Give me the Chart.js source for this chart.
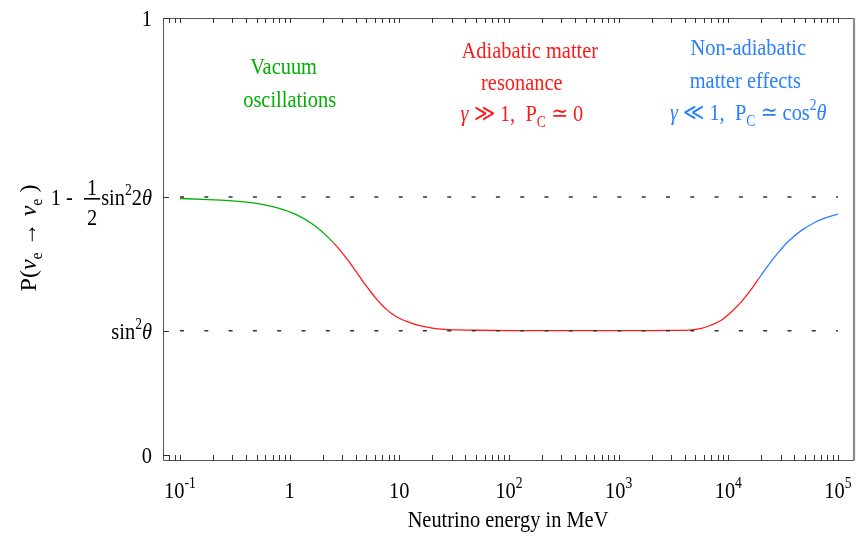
<!DOCTYPE html>
<html>
<head>
<meta charset="utf-8">
<script src="https://cdn.jsdelivr.net/npm/chart.js@4.4.1/dist/chart.umd.min.js"></script>
<style>
  body { margin: 0; background: #fff; }
  canvas { display: block; }
</style>
</head>
<body>
<canvas id="chart" width="863" height="539"></canvas>
<script>
// values
var SIN2 = 0.2844;          // sin^2 theta
var UPPER = 0.5904;         // 1 - 1/2 sin^2 2theta

var vacuumE = [0.1, 0.16, 0.28, 0.46, 0.76, 1.15, 1.6, 2.15];
var vacuumP = [0.587, 0.585, 0.582, 0.577, 0.566, 0.550, 0.529, 0.5026];

var adiabaticE = [2.5, 2.8, 3.3, 3.6, 4.0, 4.5, 5.0, 5.5, 6.1, 6.8, 7.6, 8.5, 10, 12, 15, 20, 26, 35, 50, 100, 1000, 1900, 3000, 4300, 5700, 7000, 8700, 10700, 13200, 16300];
var adiabaticP = [0.4861, 0.4723, 0.450, 0.4372, 0.4211, 0.4028, 0.3868, 0.373, 0.359, 0.3457, 0.3338, 0.324, 0.313, 0.3045, 0.2965, 0.2905, 0.2876, 0.2862, 0.2855, 0.2848, 0.2846, 0.2846, 0.285, 0.286, 0.290, 0.2975, 0.309, 0.328, 0.351, 0.380];

var nonAdiabaticE = [19000, 23100, 28500, 35000, 46500, 61400, 75700, 100000];
var nonAdiabaticP = [0.404, 0.434, 0.463, 0.488, 0.514, 0.532, 0.542, 0.551];

var dashE = [0.1, 100000];

var xMajor = [0.1, 1, 10, 100, 1000, 10000, 100000];
var xMajorLabels = [['10', '-1'], ['1', ''], ['10', ''], ['10', '2'], ['10', '3'], ['10', '4'], ['10', '5']];
var yTicks = [0, SIN2, UPPER, 1];

var GREEN = '#00b000', RED = '#ff1a1a', BLUE = '#2a80ff';
var FONT = '"Liberation Serif", "DejaVu Serif", serif';

function pts(xs, ys) {
    return xs.map(function (x, i) { return { x: x, y: ys[i] }; });
}

function minorTicks() {
    var out = [];
    for (var p = -2; p <= 5; p++) {
        for (var k = 1; k <= 9; k++) {
            var v = k * Math.pow(10, p);
            if (v >= 0.075 && v <= 140000) out.push(v);
        }
    }
    return out;
}

function fontOf(p, size) {
    var s = (p.sub || p.sup) ? Math.round(size * 0.68) : size;
    return (p.it ? 'italic ' : '') + s + 'px ' + FONT;
}

// draws a list of text pieces (with sub/superscripts) at x, baseline y
function drawRuns(ctx, parts, x, y, align, size, sq) {
    sq = sq || 0.85;
    function fracW(p) {
        ctx.font = size + 'px ' + FONT;
        return Math.max(ctx.measureText(p.frac[0]).width, ctx.measureText(p.frac[1]).width) * sq + 2 * p.pad;
    }
    var w = 0;
    parts.forEach(function (p) {
        if (p.frac) { w += fracW(p); return; }
        ctx.font = fontOf(p, size);
        w += ctx.measureText(p.t).width * sq;
    });
    var cx = align === 'center' ? x - w / 2 : (align === 'right' ? x - w : x);
    ctx.textAlign = 'left';
    ctx.textBaseline = 'alphabetic';
    parts.forEach(function (p) {
        if (p.frac) {
            var fw = fracW(p);
            [[p.frac[0], -10], [p.frac[1], 20]].forEach(function (f) {
                var tw = ctx.measureText(f[0]).width * sq;
                ctx.save();
                ctx.translate(cx + (fw - tw) / 2, y + f[1]);
                ctx.scale(sq, 1);
                ctx.fillText(f[0], 0, 0);
                ctx.restore();
            });
            ctx.fillRect(cx + 1, y - 7, fw - 2, 1.6);
            cx += fw;
            return;
        }
        ctx.font = fontOf(p, size);
        var dy = p.sub ? size * 0.25 : (p.sup ? -size * 0.4 : 0);
        ctx.save();
        ctx.translate(cx, y + dy);
        ctx.scale(sq, 1);
        ctx.fillText(p.t, 0, 0);
        ctx.restore();
        cx += ctx.measureText(p.t).width * sq;
    });
}

var notes = [
    { color: GREEN, x: 0.88, y: 0.872, parts: [{ t: 'Vacuum' }] },
    { color: GREEN, x: 1.0, y: 0.796, parts: [{ t: 'oscillations' }] },
    { color: RED, x: 155, y: 0.908, parts: [{ t: 'Adiabatic matter' }] },
    { color: RED, x: 131, y: 0.835, parts: [{ t: 'resonance' }] },
    { color: RED, x: 131, y: 0.764, parts: [{ t: '\u03b3', it: true }, { t: ' \u226b 1,  P' }, { t: 'C', sub: true }, { t: ' \u2243 0' }] },
    { color: BLUE, x: 15200, y: 0.915, parts: [{ t: 'Non-adiabatic' }] },
    { color: BLUE, x: 14300, y: 0.840, parts: [{ t: 'matter effects' }] },
    { color: BLUE, x: 15200, y: 0.767, parts: [{ t: '\u03b3', it: true }, { t: ' \u226a 1,  P' }, { t: 'C', sub: true }, { t: ' \u2243 cos' }, { t: '2', sup: true }, { t: '\u03b8', it: true }] }
];

var yLabelParts = [
    [{ t: '0' }],
    [{ t: 'sin' }, { t: '2', sup: true }, { t: '\u03b8', it: true }],
    [{ t: '1 -  ' }, { frac: ['1', '2'], pad: 4 }, { t: 'sin' }, { t: '2', sup: true }, { t: '2' }, { t: '\u03b8', it: true }],
    [{ t: '1' }]
];

var decorPlugin = {
    id: 'decor',
    afterDraw: function (chart) {
        var ctx = chart.ctx, a = chart.chartArea;
        var xs = chart.scales.x, ys = chart.scales.y;
        ctx.save();

        // frame
        ctx.strokeStyle = '#555';
        ctx.lineWidth = 1;
        ctx.beginPath();
        ctx.moveTo(a.left + 0.5, a.top + 0.5);
        ctx.lineTo(a.right, a.top + 0.5);
        ctx.moveTo(a.left + 0.5, a.top);
        ctx.lineTo(a.left + 0.5, a.bottom - 0.5);
        ctx.lineTo(a.right, a.bottom - 0.5);
        ctx.stroke();
        ctx.strokeStyle = '#8a8a8a';
        ctx.lineWidth = 2.2;
        ctx.beginPath();
        ctx.moveTo(a.right - 1, a.top);
        ctx.lineTo(a.right - 1, a.bottom);
        ctx.stroke();

        // inward ticks
        ctx.strokeStyle = '#333';
        ctx.lineWidth = 1;
        ctx.beginPath();
        minorTicks().forEach(function (v) {
            var px = Math.round(xs.getPixelForValue(v)) + 0.5;
            ctx.moveTo(px, a.bottom - 6);
            ctx.lineTo(px, a.bottom);
            ctx.moveTo(px, a.top);
            ctx.lineTo(px, a.top + 5);
        });
        yTicks.forEach(function (v) {
            var py = Math.round(ys.getPixelForValue(v)) + 0.5;
            ctx.moveTo(a.left, py);
            ctx.lineTo(a.left + 6, py);
        });
        ctx.stroke();

        // y tick labels
        ctx.fillStyle = '#000';
        yTicks.forEach(function (v, i) {
            drawRuns(ctx, yLabelParts[i], 152, ys.getPixelForValue(v) + 8, 'right', 24);
        });

        // x tick labels
        xMajor.forEach(function (v, i) {
            var lab = xMajorLabels[i];
            var parts = [{ t: lab[0] }];
            if (lab[1]) parts.push({ t: lab[1], sup: true });
            drawRuns(ctx, parts, xs.getPixelForValue(v), a.bottom + 37, 'center', 24);
        });

        // axis titles
        drawRuns(ctx, [{ t: 'Neutrino energy in MeV' }], (a.left + a.right) / 2 - 1, 527, 'center', 24);
        ctx.save();
        ctx.translate(36, 238);
        ctx.rotate(-Math.PI / 2);
        drawRuns(ctx, [{ t: 'P(' }, { t: '\u03bd', it: true }, { t: 'e', sub: true }, { t: ' \u2192 ' }, { t: '\u03bd', it: true }, { t: 'e', sub: true }, { t: ' )' }], 0, 0, 'center', 24, 1);
        ctx.restore();

        // region notes
        notes.forEach(function (n) {
            ctx.fillStyle = n.color;
            drawRuns(ctx, n.parts, xs.getPixelForValue(n.x), ys.getPixelForValue(n.y), 'center', 24);
        });
        ctx.restore();
    }
};

// one smooth curve, coloured by regime
var curveE = vacuumE.concat(adiabaticE, nonAdiabaticE);
var curveP = vacuumP.concat(adiabaticP, nonAdiabaticP);

function regimeColor(c) {
    var x = c.p0.parsed.x;
    if (x < 2.5) return GREEN;
    if (x < 19000) return RED;
    return BLUE;
}

var chart = new Chart(document.getElementById('chart'), {
    type: 'line',
    data: {
        datasets: [
            { data: pts(dashE, [SIN2, SIN2]), borderColor: '#333', borderWidth: 1.6, borderDash: [4, 20.3], pointRadius: 0 },
            { data: pts(dashE, [UPPER, UPPER]), borderColor: '#333', borderWidth: 1.6, borderDash: [4, 20.3], pointRadius: 0 },
            {
                data: pts(curveE, curveP),
                borderColor: RED,
                borderWidth: 1.3,
                pointRadius: 0,
                fill: false,
                cubicInterpolationMode: 'monotone',
                segment: { borderColor: regimeColor }
            }
        ]
    },
    options: {
        responsive: false,
        animation: false,
        layout: { padding: { left: 163, right: 8, top: 18, bottom: 78 } },
        plugins: { legend: { display: false }, tooltip: { enabled: false } },
        scales: {
            x: { type: 'logarithmic', min: 0.07, max: 143000, display: false },
            y: { type: 'linear', min: -0.0137, max: 1, display: false }
        }
    },
    plugins: [decorPlugin]
});
</script>
</body>
</html>
